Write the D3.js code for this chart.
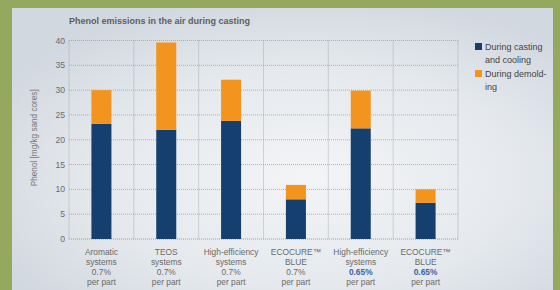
<!DOCTYPE html>
<html>
<head>
<meta charset="utf-8">
<script src="https://cdn.jsdelivr.net/npm/d3@7"></script>
<style>
  html, body { margin: 0; padding: 0; background: #94a85e; }
  svg { display: block; font-family: "Liberation Sans", Arial, sans-serif; }
</style>
</head>
<body>
<div id="chart"></div>
<script>
// chart data
var categories = [
    ["Aromatic", "systems", "0.7%", "per part"],
    ["TEOS", "systems", "0.7%", "per part"],
    ["High-efficiency", "systems", "0.7%", "per part"],
    ["ECOCURE\u2122", "BLUE", "0.7%", "per part"],
    ["High-efficiency", "systems", "0.65%", "per part"],
    ["ECOCURE\u2122", "BLUE", "0.65%", "per part"]
];
var castingCooling = [23.2, 22.0, 23.8, 8.0, 22.3, 7.3];
var demolding = [6.8, 17.6, 8.3, 2.9, 7.6, 2.7];
var yTicks = [0, 5, 10, 15, 20, 25, 30, 35, 40];
var seriesNames = [["During casting", "and cooling"], ["During demold-", "ing"]];
var highlight = "0.65%";

var W = 560, H = 290;
var margin = { top: 40.5, left: 69, right: 102, bottom: 51 };
var width = W - margin.left - margin.right,
    height = H - margin.top - margin.bottom;
var colors = ["#143f6e", "#f3941f"];

var svg = d3.select("#chart").append("svg")
    .attr("width", W)
    .attr("height", H);

// panel background
var defs = svg.append("defs");
var grad = defs.append("radialGradient")
    .attr("id", "bg")
    .attr("cx", "55%").attr("cy", "60%").attr("r", "65%");
grad.append("stop").attr("offset", "0%").attr("stop-color", "#f3f4f6");
grad.append("stop").attr("offset", "60%").attr("stop-color", "#e5e9ed");
grad.append("stop").attr("offset", "100%").attr("stop-color", "#d2d8e0");

svg.append("rect")
    .attr("x", 12).attr("y", 8)
    .attr("width", 541).attr("height", H - 8)
    .attr("fill", "url(#bg)");

// title
svg.append("text")
    .attr("x", 69).attr("y", 24)
    .attr("font-size", 9)
    .attr("font-weight", "bold")
    .attr("fill", "#5e5e5e")
    .text("Phenol emissions in the air during casting");

var g = svg.append("g")
    .attr("transform", "translate(" + margin.left + "," + margin.top + ")");

var x = d3.scaleBand()
    .domain(d3.range(categories.length))
    .range([0, width]);
var y = d3.scaleLinear().domain([0, 40]).range([height, 0]);

// grid (dotted)
g.selectAll(".hgrid").data(yTicks).enter().append("line")
    .attr("class", "hgrid")
    .attr("x1", 0).attr("x2", width)
    .attr("y1", function (d) { return y(d); })
    .attr("y2", function (d) { return y(d); })
    .attr("stroke", function (d) { return d === 0 ? "#888" : "#a0a0a0"; })
    .attr("stroke-width", 0.8)
    .attr("stroke-dasharray", "1,1");

var vlines = d3.range(categories.length + 1);
g.selectAll(".vgrid").data(vlines).enter().append("line")
    .attr("class", "vgrid")
    .attr("x1", function (d) { return d * x.step(); })
    .attr("x2", function (d) { return d * x.step(); })
    .attr("y1", 0).attr("y2", height)
    .attr("stroke", "#a0a0a0")
    .attr("stroke-width", 0.8)
    .attr("stroke-dasharray", "1,1");

// y axis labels
g.selectAll(".ytick").data(yTicks).enter().append("text")
    .attr("x", -4)
    .attr("y", function (d) { return y(d) + 3; })
    .attr("text-anchor", "end")
    .attr("font-size", 8.6)
    .attr("fill", "#6a6a6a")
    .text(function (d) { return d; });

svg.append("text")
    .attr("transform", "translate(37," + (margin.top + height / 2 - 2) + ") rotate(-90)")
    .attr("text-anchor", "middle")
    .attr("font-size", 8.2)
    .attr("fill", "#777")
    .text("Phenol [mg/kg sand cores]");

// stacked bars
var barW = 20;
var stack = castingCooling.map(function (c, i) { return [c, c + demolding[i]]; });

g.selectAll(".bar1").data(castingCooling).enter().append("rect")
    .attr("x", function (d, i) { return x(i) + x.bandwidth() / 2 - barW / 2; })
    .attr("y", function (d) { return y(d); })
    .attr("width", barW)
    .attr("height", function (d) { return y(0) - y(d); })
    .attr("fill", colors[0]);

g.selectAll(".bar2").data(stack).enter().append("rect")
    .attr("x", function (d, i) { return x(i) + x.bandwidth() / 2 - barW / 2; })
    .attr("y", function (d) { return y(d[1]); })
    .attr("width", barW)
    .attr("height", function (d) { return y(d[0]) - y(d[1]); })
    .attr("fill", colors[1]);

// category labels
var labels = g.selectAll(".cat").data(categories).enter().append("text")
    .attr("text-anchor", "middle")
    .attr("font-size", 8.4)
    .attr("fill", "#6a6a6a")
    .attr("transform", function (d, i) {
        return "translate(" + (x(i) + x.bandwidth() / 2) + "," + (height + 16) + ")";
    });
labels.selectAll("tspan").data(function (d) { return d; }).enter().append("tspan")
    .attr("x", 0)
    .attr("y", function (d, i) { return i * 10; })
    .attr("fill", function (d) { return d === highlight ? "#3a63a8" : null; })
    .attr("font-weight", function (d) { return d === highlight ? "bold" : null; })
    .text(function (d) { return d; });

// legend
var legend = svg.append("g").attr("transform", "translate(475,43)");
seriesNames.forEach(function (name, i) {
    var row = legend.append("g").attr("transform", "translate(0," + (i * 27) + ")");
    row.append("rect")
        .attr("width", 7).attr("height", 7)
        .attr("fill", colors[i]);
    row.selectAll("text").data(name).enter().append("text")
        .attr("x", 10)
        .attr("y", function (d, j) { return 6.5 + j * 13.5; })
        .attr("font-size", 9)
        .attr("fill", "#444")
        .text(function (d) { return d; });
});
</script>
</body>
</html>
